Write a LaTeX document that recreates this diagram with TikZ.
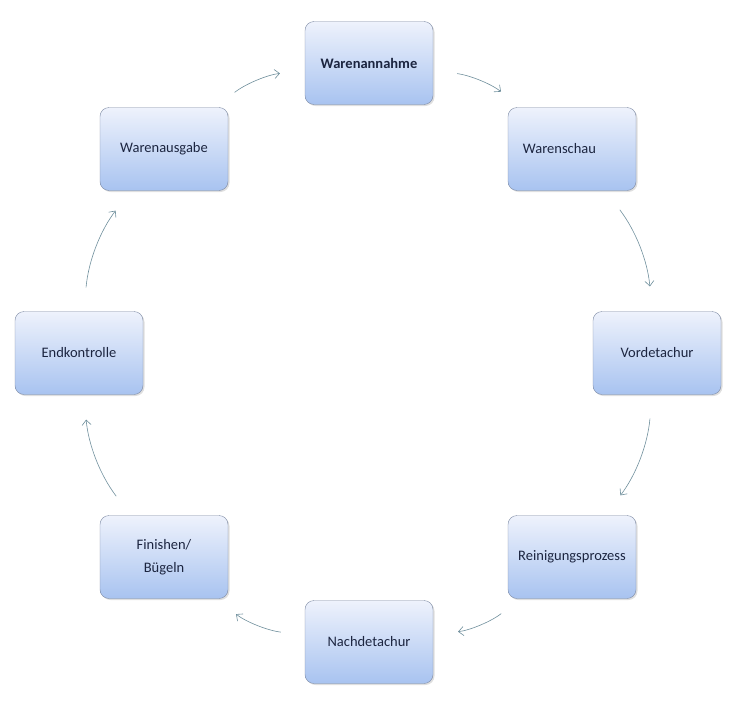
\documentclass[tikz,border=0pt]{standalone}
\usepackage{fontspec}
\setmainfont{Carlito}
\usetikzlibrary{arrows.meta,shadows}

\definecolor{boxtop}{HTML}{EEF2FC}
\definecolor{boxbot}{HTML}{A8C3F0}
\definecolor{boxline}{HTML}{7D8AA3}
\definecolor{flowline}{HTML}{6F8F9C}
\definecolor{boxtext}{HTML}{1C2540}

\begin{document}
\begin{tikzpicture}[x=1pt,y=-1pt,
    stage/.style={draw=boxline, rounded corners=9pt, top color=boxtop, bottom color=boxbot,
        minimum width=128pt, minimum height=83pt, text=boxtext, align=center,
        font=\fontsize{14.5}{23}\selectfont,
        drop shadow={opacity=0.25, shadow xshift=1.5pt, shadow yshift=-1.5pt}},
    flow/.style={draw=flowline, line width=0.6pt, -{Straight Barb[length=5pt,width=9pt]},
        bend left=16, shorten <=24pt, shorten >=25pt}]

    % Canvas of the same size as the reference
    \useasboundingbox (0,0) rectangle (736,707);

    % 1. Centres of the eight stages, placed round one circle
    \coordinate (cWA) at (369,63);
    \coordinate (cWS) at (572,149);
    \coordinate (cVD) at (657,353);
    \coordinate (cRP) at (572,557);
    \coordinate (cND) at (369,642);
    \coordinate (cFB) at (164,557);
    \coordinate (cEK) at (79,353);
    \coordinate (cWG) at (164,149);

    % 2. The stages
    \node[stage] (annahme) at (cWA) {\textbf{Warenannahme}};
    \node[stage] (schau)   at (cWS) {Warenschau\hspace{25pt}};
    \node[stage] (vordet)  at (cVD) {Vordetachur};
    \node[stage] (reinig)  at (cRP) {Reinigungsprozess};
    \node[stage] (nachdet) at (cND) {Nachdetachur};
    \node[stage] (finish)  at (cFB) {Finishen/\\Bügeln};
    \node[stage] (endkon)  at (cEK) {Endkontrolle};
    \node[stage] (ausgabe) at (cWG) {Warenausgabe};

    % 3. Arrows going clockwise round the circle
    \draw[flow] (annahme) to (schau);
    \draw[flow] (schau)   to (vordet);
    \draw[flow] (vordet)  to (reinig);
    \draw[flow] (reinig)  to (nachdet);
    \draw[flow] (nachdet) to (finish);
    \draw[flow] (finish)  to (endkon);
    \draw[flow] (endkon)  to (ausgabe);
    \draw[flow] (ausgabe) to (annahme);

\end{tikzpicture}
\end{document}
